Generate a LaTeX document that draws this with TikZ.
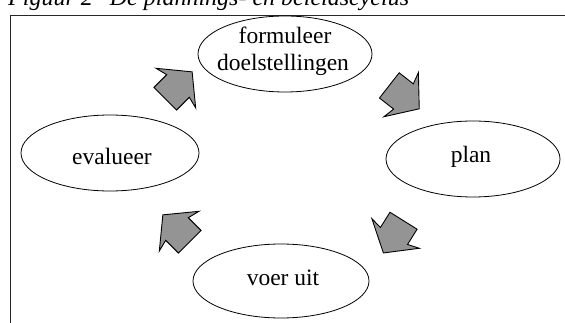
\documentclass[tikz,border=0pt]{standalone}
\usepackage{fontspec}
\setmainfont{Liberation Serif}
\usetikzlibrary{shapes.geometric}
\tikzset{
 ell/.style={draw=black, line width=0.8pt, ellipse, inner sep=0pt},
 lbl/.style={font=\fontsize{23.5}{27}\selectfont, inner sep=0pt, anchor=base},
 blockarrow/.style={draw=black, line width=0.9pt, fill=black!42, line join=miter},
 frameline/.style={line width=0.9pt, black!85},
}
\newcommand{\fatarrow}[2]{%
 \begin{scope}[shift={#1}, rotate=#2]
 \draw[blockarrow] (-18pt,-16pt) -- (0pt,-16pt) -- (-3pt,-28pt) -- (20pt,0pt) -- (-3pt,28pt) -- (0pt,16pt) -- (-18pt,16pt) -- cycle;
 \end{scope}}
\begin{document}
\begin{tikzpicture}[x=1pt,y=-1pt]
\useasboundingbox (0,0) rectangle (565,323);
\clip (0,0) rectangle (565,323);
\node[font=\fontsize{24}{28}\selectfont\itshape, anchor=base west, inner sep=0pt] (title) at (8,5.5) {Figuur 2\hspace{17pt}De plannings- en beleidscyclus};
\coordinate (tr) at (565,15);
\coordinate (tl) at (10,15);
\coordinate (bl) at (10,323);
\draw[frameline] (tr) -- (tl) -- (bl);
\node[ell, minimum width=174pt, minimum height=76pt] (f) at (285,54) {};
\node[ell, minimum width=178pt, minimum height=76pt] (e) at (110,153) {};
\node[ell, minimum width=174pt, minimum height=76pt] (p) at (473,159) {};
\node[ell, minimum width=176pt, minimum height=74pt] (v) at (281,281) {};
\node[lbl] (ft1) at (285,44) {formuleer};
\node[lbl] (ft2) at (283,71) {doelstellingen};
\node[lbl] (et) at (112,165) {evalueer};
\node[lbl] (pt) at (471,163) {plan};
\node[lbl] (vt) at (283,285) {voer uit};
\fatarrow{(178,86)}{45}
\fatarrow{(403.5,96.5)}{-38}
\fatarrow{(394,236)}{238}
\fatarrow{(177,229)}{135}
\end{tikzpicture}
\end{document}
